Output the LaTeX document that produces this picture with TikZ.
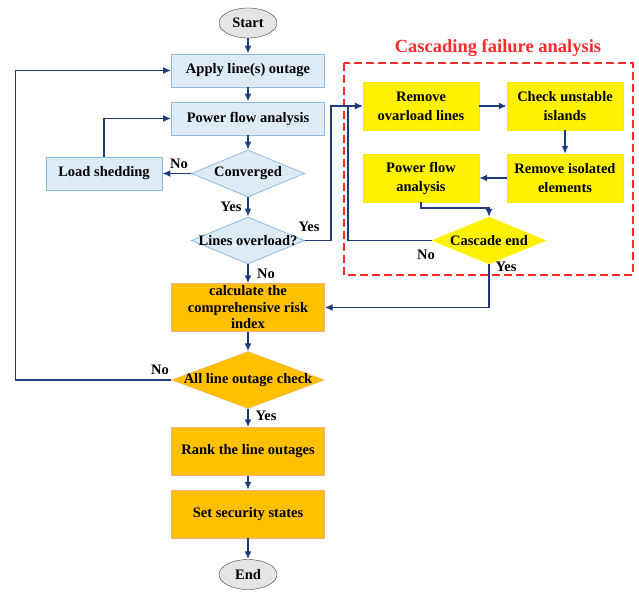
\documentclass[tikz,border=0pt]{standalone}
\usepackage{fontspec}
\setmainfont{Liberation Serif}
\usetikzlibrary{shapes.geometric,arrows.meta}
\definecolor{flowblue}{HTML}{1F3B7A}
\definecolor{boxblue}{HTML}{DDEBF7}
\definecolor{boxblueline}{HTML}{8FB8E0}
\definecolor{orfill}{HTML}{FFC000}
\definecolor{orline}{HTML}{F4B183}
\definecolor{dashred}{HTML}{FF2A2A}

\begin{document}
\begin{tikzpicture}[x=1pt,y=-1pt,
   every node/.style={font=\bfseries\fontsize{14.5}{16.5}\selectfont},
   term/.style={ellipse,draw=black!75,fill=black!10,minimum width=58pt,minimum height=30pt,inner sep=0pt},
   bluebox/.style={draw=boxblueline,line width=0.8pt,fill=boxblue,minimum width=153pt,minimum height=33pt,inner sep=0pt},
   orbox/.style={draw=orline,fill=orfill,minimum width=153pt,minimum height=48pt,inner sep=0pt,align=center},
   ylbox/.style={draw=yellow!90!orange,fill=yellow,minimum width=116pt,minimum height=48pt,inner sep=0pt,align=center,
                 font=\bfseries\fontsize{14.5}{19}\selectfont},
   decision/.style={diamond,minimum width=113pt,minimum height=47pt,inner sep=0pt},
   flow/.style={draw=flowblue,line width=1.5pt,-{Latex[length=8pt,width=7pt]}},
   lab/.style={inner sep=0pt}]
   \useasboundingbox (0,0) rectangle (639,593);

   % main chain
   \node[term] (start) at (248,23) {Start};
   \node[bluebox] (apply) at (248,70.5) {Apply line(s) outage};
   \node[bluebox] (pfa) at (248,118.5) {Power flow analysis};
   \node[decision,draw=boxblueline,line width=0.8pt,fill=boxblue,label=center:Converged] (conv) at (248,173.5) {};
   \node[bluebox,minimum width=116pt] (shed) at (104,173.5) {Load shedding};
   \node[decision,draw=boxblueline,line width=0.8pt,fill=boxblue,label=center:{Lines overload?}] (over) at (248,240.5) {};
   \node[orbox] (risk) at (248,307.5) {calculate the\\comprehensive risk\\index};
   \node[decision,draw=orline,fill=orfill,minimum width=153pt,minimum height=57pt,label=center:{All line outage check}] (check) at (248,380) {};
   \node[orbox] (rank) at (248,451.5) {Rank the line outages};
   \node[orbox] (secure) at (248,514) {Set security states};
   \node[term] (end) at (248,574.5) {End};

   % cascading failure block
   \draw[dashred,line width=1.3pt,dash pattern=on 8pt off 4pt] (344,63) rectangle (633,275);
   \node[text=dashred,font=\bfseries\fontsize{18.5}{20}\selectfont] (title) at (498,48) {Cascading failure analysis};
   \node[ylbox] (rmov) at (421,106) {Remove\\ovarload lines};
   \node[ylbox] (chk) at (565,106) {Check unstable\\islands};
   \node[ylbox] (rmiso) at (565,178) {Remove isolated\\elements};
   \node[ylbox] (pfc) at (421,178) {Power flow\\analysis};
   \node[decision,draw=yellow,fill=yellow,minimum width=114pt,label=center:{Cascade end}] (cend) at (489,240.5) {};

   \draw[flow] (start) -- (apply);
   \draw[flow] (apply) -- (pfa);
   \draw[flow] (pfa) -- (conv);
   \draw[flow] (conv) -- (shed);
   \draw[flow] (shed.north) |- (pfa.west);
   \draw[flow] (conv) -- (over);
   \draw[flow] (over) -- (risk);
   \draw[flow] (over.east) -- ++(26,0) |- (rmov.west);
   \draw[flow] (rmov) -- (chk);
   \draw[flow] (chk) -- (rmiso);
   \draw[flow] (rmiso) -- (pfc);
   \draw[flow] (pfc.south) -- ++(0,6) -| (cend.north);
   \draw[flow] (cend.west) -- ++(-84,0) |- (rmov.west);
   \draw[flow] (cend.south) |- (risk.east);
   \draw[flow] (risk) -- (check);
   \draw[flow] (check) -- (rank);
   \draw[flow] (rank) -- (secure);
   \draw[flow] (secure) -- (end);
   \draw[flow] (check.west) -- ++(-156,0) |- (apply.west);

   \node[lab] (noconv) at (179,164) {No};
   \node[lab] (yesconv) at (231,207) {Yes};
   \node[lab] (yesover) at (309,227) {Yes};
   \node[lab] (noover) at (266,274) {No};
   \node[lab] (nocend) at (426,255) {No};
   \node[lab] (yescend) at (506,267) {Yes};
   \node[lab] (nocheck) at (160,370) {No};
   \node[lab] (yescheck) at (266,416) {Yes};
\end{tikzpicture}
\end{document}
